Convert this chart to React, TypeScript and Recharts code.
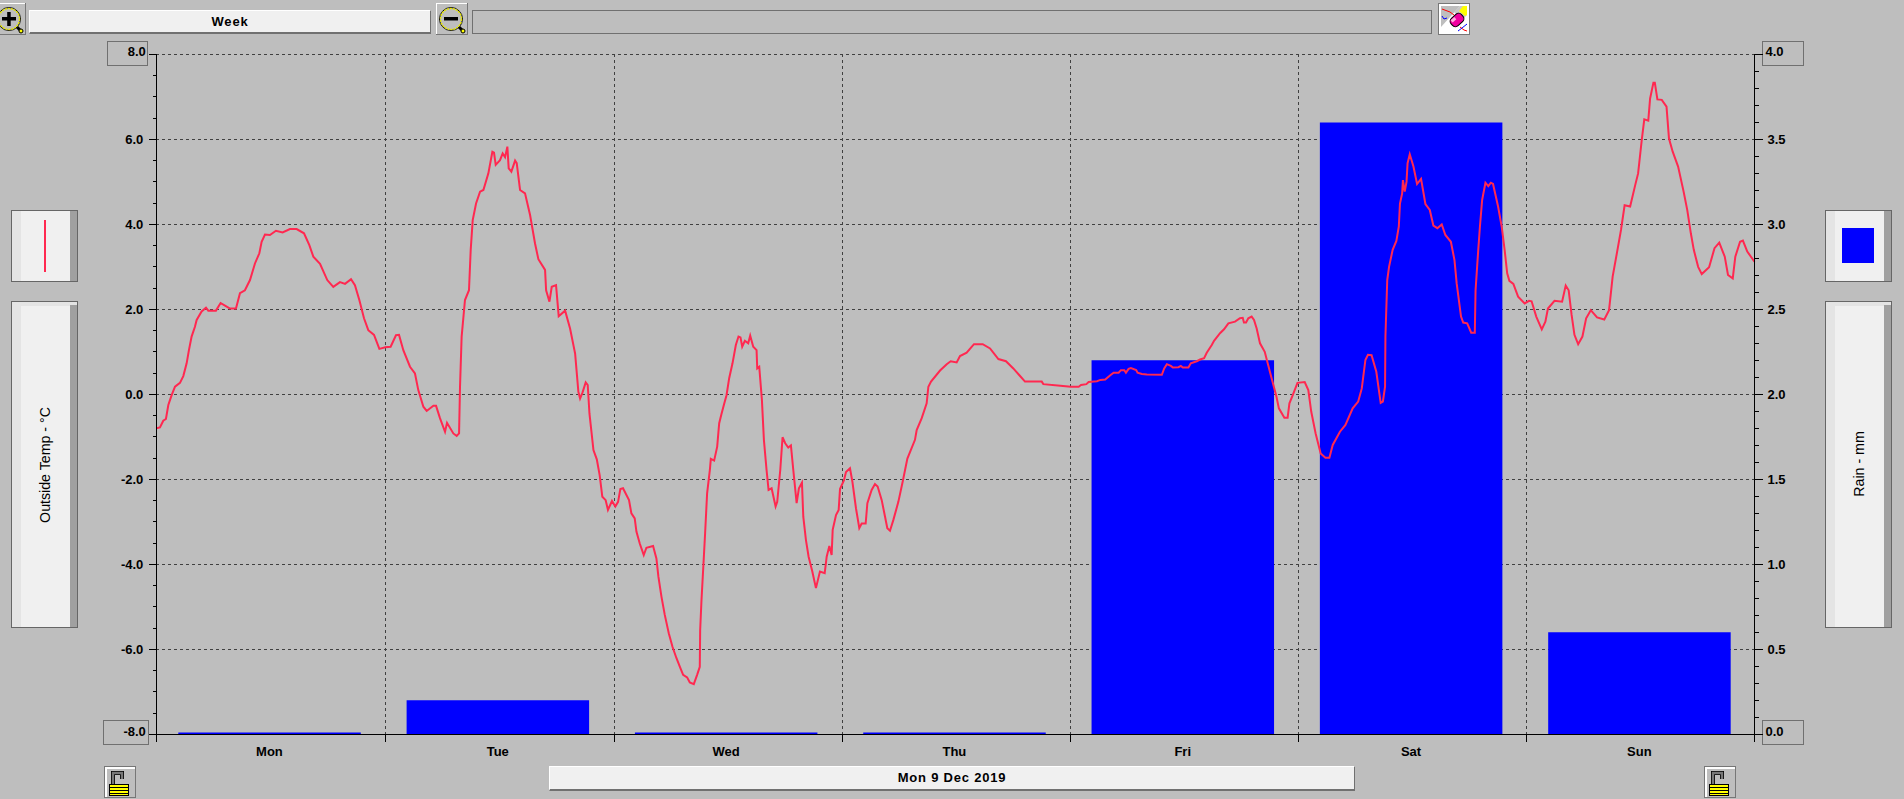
import React from 'react';
import { ComposedChart, Bar, Line, XAxis, YAxis, CartesianGrid } from 'recharts';

const BG = '#bebebe';
const RED = '#ff2850';
const BLUE = '#0000ff';
const FONT = '"Liberation Sans", Arial, sans-serif';

const days = ['Mon', 'Tue', 'Wed', 'Thu', 'Fri', 'Sat', 'Sun'];
const rainMm = [0.01, 0.2, 0.01, 0.01, 2.2, 3.6, 0.6];
// where the day lines sit on the hour axis, they drift a little in the original
const dayEdges = [0, 24.07, 48.15, 72.15, 96.12, 120.07, 144.03, 168];

const tempTicks = [
  -8, -7.5, -7, -6.5, -6, -5.5, -5, -4.5, -4, -3.5, -3, -2.5, -2, -1.5, -1, -0.5, 0,
  0.5, 1, 1.5, 2, 2.5, 3, 3.5, 4, 4.5, 5, 5.5, 6, 6.5, 7, 7.5, 8,
];
const tempMajor = [-8, -6, -4, -2, 0, 2, 4, 6, 8];
const rainTicks = [
  0, 0.1, 0.2, 0.3, 0.4, 0.5, 0.6, 0.7, 0.8, 0.9, 1, 1.1, 1.2, 1.3, 1.4, 1.5, 1.6, 1.7, 1.8, 1.9, 2,
  2.1, 2.2, 2.3, 2.4, 2.5, 2.6, 2.7, 2.8, 2.9, 3, 3.1, 3.2, 3.3, 3.4, 3.5, 3.6, 3.7, 3.8, 3.9, 4,
];

// hour of the week, outside temp
const tempReadings: [number, number][] = [
  [0, -0.8], [0.38, -0.78], [0.73, -0.62], [1.01, -0.58], [1.26, -0.25], [1.61, -0.02], [1.96, 0.18], [2.48, 0.27],
  [2.83, 0.43], [3.18, 0.73], [3.42, 1.04], [3.7, 1.36], [4.05, 1.59], [4.23, 1.75], [4.75, 1.95], [5.21, 2.04],
  [5.45, 1.97], [6.25, 1.97], [6.74, 2.15], [7.2, 2.09], [7.72, 2.02], [8.35, 2.02], [8.77, 2.38], [9.29, 2.45],
  [9.82, 2.69], [10.34, 3.08], [10.8, 3.32], [11.04, 3.59], [11.39, 3.76], [11.91, 3.75], [12.54, 3.85], [13.24, 3.81],
  [14.01, 3.89], [14.71, 3.89], [15.48, 3.79], [16.04, 3.51], [16.46, 3.24], [17.16, 3.07], [17.92, 2.69], [18.55, 2.53],
  [19.25, 2.64], [19.78, 2.6], [20.41, 2.71], [20.82, 2.57], [21.28, 2.22], [21.77, 1.79], [22.22, 1.51], [22.82, 1.4],
  [23.38, 1.07], [24, 1.11], [24.56, 1.12], [25.12, 1.39], [25.44, 1.4], [25.89, 1.04], [26.59, 0.65], [27.11, 0.49],
  [27.46, 0.1], [27.99, -0.29], [28.34, -0.39], [29.04, -0.27], [29.32, -0.27], [29.73, -0.56], [30.26, -0.88], [30.47, -0.67],
  [31.13, -0.92], [31.48, -0.98], [31.73, -0.92], [31.83, 0.18], [32, 1.36], [32.35, 2.22], [32.77, 2.45], [32.95, 3.4],
  [33.16, 4.1], [33.51, 4.49], [33.93, 4.77], [34.28, 4.81], [34.8, 5.2], [35.22, 5.71], [35.39, 5.69], [35.57, 5.4],
  [36.02, 5.51], [36.3, 5.67], [36.55, 5.58], [36.79, 5.83], [36.93, 5.32], [37.21, 5.24], [37.6, 5.5], [37.77, 5.44],
  [38.12, 4.81], [38.64, 4.73], [39.17, 4.22], [39.69, 3.55], [40.04, 3.18], [40.74, 2.93], [40.85, 2.45], [41.2, 2.18],
  [41.44, 2.53], [41.89, 2.57], [42.17, 1.84], [42.84, 1.97], [43.36, 1.55], [43.89, 0.96], [44.23, 0.06], [44.41, -0.1],
  [44.66, 0.04], [45, 0.28], [45.21, 0.22], [45.39, -0.45], [45.81, -1.31], [46.16, -1.53], [46.46, -1.9], [46.74, -2.41],
  [47.09, -2.49], [47.33, -2.72], [47.75, -2.51], [48.1, -2.64], [48.39, -2.53], [48.63, -2.23], [48.91, -2.21], [49.54, -2.49],
  [49.79, -2.8], [50.14, -2.92], [50.32, -3.23], [50.67, -3.51], [51.09, -3.78], [51.37, -3.61], [52.07, -3.57], [52.42, -3.86],
  [52.63, -4.29], [52.95, -4.76], [53.3, -5.19], [53.72, -5.62], [54.11, -5.94], [54.53, -6.21], [54.88, -6.41], [55.23, -6.6],
  [55.65, -6.66], [55.93, -6.78], [56.35, -6.82], [56.7, -6.6], [56.98, -6.41], [57.02, -5.55], [57.16, -4.84], [57.37, -3.98],
  [57.54, -3.27], [57.75, -2.33], [58.04, -1.78], [58.14, -1.52], [58.49, -1.56], [58.81, -1.23], [59.02, -0.68], [59.26, -0.46],
  [59.51, -0.25], [59.79, -0.02], [60.07, 0.38], [60.42, 0.73], [60.77, 1.16], [61.05, 1.36], [61.26, 1.34], [61.44, 1.12],
  [61.72, 1.26], [62.07, 1.2], [62.28, 1.38], [62.6, 1.12], [62.95, 1.04], [63.02, 0.61], [63.23, 0.65], [63.51, -0.13],
  [63.72, -1.07], [64, -1.78], [64.21, -2.25], [64.53, -2.21], [64.95, -2.64], [65.12, -2.53], [65.44, -1.78], [65.68, -1.01],
  [65.96, -1.15], [66.28, -1.25], [66.56, -1.2], [66.81, -1.78], [67.16, -2.56], [67.4, -2.21], [67.72, -2.08], [67.86, -2.88],
  [68.14, -3.43], [68.42, -3.82], [68.81, -4.17], [69.19, -4.56], [69.61, -4.17], [70.11, -4.21], [70.32, -3.82], [70.6, -3.57],
  [70.84, -3.78], [70.95, -3.19], [71.3, -2.84], [71.58, -2.72], [71.72, -2.23], [72.14, -2.02], [72.35, -1.83], [72.77, -1.74],
  [73.02, -2.05], [73.4, -2.68], [73.75, -3.15], [74, -3.04], [74.42, -3.04], [74.6, -2.56], [75.05, -2.25], [75.4, -2.11],
  [75.68, -2.17], [76.11, -2.49], [76.46, -2.88], [76.7, -3.15], [76.98, -3.21], [77.33, -2.96], [77.86, -2.53], [78.32, -2.05],
  [78.81, -1.51], [79.61, -1.07], [79.79, -0.84], [80.32, -0.56], [80.84, -0.21], [81.02, 0.18], [81.3, 0.3], [82.25, 0.56],
  [82.95, 0.71], [83.37, 0.78], [84, 0.75], [84.35, 0.9], [85.05, 0.98], [85.82, 1.18], [86.74, 1.18], [87.51, 1.08],
  [88.39, 0.83], [89.19, 0.78], [89.96, 0.61], [90.6, 0.45], [91.19, 0.3], [92.95, 0.3], [93.12, 0.24], [94.91, 0.2],
  [96, 0.18], [96.84, 0.18], [97.09, 0.22], [97.65, 0.24], [97.89, 0.29], [98.77, 0.31], [99.12, 0.34], [99.64, 0.35],
  [100.17, 0.45], [100.52, 0.51], [101.05, 0.51], [101.29, 0.57], [101.64, 0.57], [101.82, 0.51], [102.1, 0.6], [102.34, 0.62],
  [102.9, 0.57], [103.04, 0.51], [103.5, 0.48], [104.02, 0.47], [105.6, 0.46], [105.85, 0.61], [106.13, 0.71], [106.55, 0.67],
  [106.76, 0.63], [107.35, 0.64], [107.6, 0.67], [107.81, 0.63], [108.4, 0.63], [108.65, 0.73], [109.28, 0.78], [109.63, 0.82],
  [110.05, 0.85], [110.33, 0.98], [110.86, 1.16], [111.1, 1.26], [111.73, 1.44], [112.15, 1.53], [112.61, 1.67], [113.31, 1.71],
  [113.83, 1.79], [114.12, 1.8], [114.25, 1.69], [114.47, 1.69], [114.71, 1.79], [115.06, 1.83], [115.31, 1.75], [115.59, 1.55],
  [115.94, 1.2], [116.44, 1], [116.71, 0.77], [117.21, 0.34], [117.67, -0.05], [117.93, -0.33], [118.51, -0.55], [118.85, -0.55],
  [119.04, -0.21], [119.39, -0.02], [119.89, 0.27], [120.65, 0.29], [121.03, 0.1], [121.34, -0.41], [121.8, -0.92], [122.33, -1.39],
  [122.83, -1.49], [123.25, -1.49], [123.6, -1.19], [124.36, -0.88], [124.94, -0.72], [125.7, -0.33], [126.28, -0.17], [126.66, 0.14],
  [127.04, 0.81], [127.31, 0.93], [127.69, 0.92], [128.19, 0.53], [128.46, 0.1], [128.65, -0.2], [128.88, -0.17], [129.11, 0.18],
  [129.15, 1.36], [129.34, 2.69], [129.53, 3], [129.91, 3.4], [130.3, 3.61], [130.56, 3.95], [130.68, 4.49], [130.91, 4.73],
  [130.99, 5.04], [131.18, 4.77], [131.37, 5], [131.48, 5.44], [131.71, 5.65], [132.1, 5.36], [132.48, 4.95], [132.9, 5.07],
  [133.36, 4.48], [133.82, 4.34], [134.2, 3.97], [134.62, 3.91], [135.08, 4], [135.46, 3.75], [136.04, 3.59], [136.42, 3.16],
  [136.65, 2.61], [137.11, 1.83], [137.34, 1.69], [137.76, 1.67], [138.18, 1.45], [138.56, 1.45], [138.64, 2.45], [138.91, 3.36],
  [139.1, 3.95], [139.33, 4.57], [139.68, 4.98], [139.98, 4.9], [140.25, 4.98], [140.48, 4.95], [141.01, 4.42], [141.39, 3.95],
  [141.7, 3.4], [141.97, 2.85], [142.2, 2.67], [142.62, 2.6], [143.12, 2.3], [143.81, 2.14], [144.27, 2.2], [144.54, 2.19],
  [145.03, 1.83], [145.61, 1.53], [145.99, 1.71], [146.26, 2.02], [146.95, 2.2], [147.75, 2.18], [148.13, 2.56], [148.44, 2.45],
  [148.75, 1.87], [149.05, 1.4], [149.44, 1.18], [149.89, 1.36], [150.28, 1.79], [150.77, 1.98], [151.43, 1.81], [152.19, 1.76],
  [152.69, 1.98], [153.07, 2.77], [153.45, 3.24], [153.95, 3.87], [154.33, 4.45], [154.91, 4.42], [155.45, 4.93], [155.75, 5.2],
  [156.13, 5.98], [156.4, 6.47], [156.82, 6.44], [157.01, 6.96], [157.36, 7.33], [157.51, 7.33], [157.78, 6.94], [158.24, 6.93],
  [158.74, 6.77], [159, 6.02], [159.39, 5.71], [159.96, 5.36], [160.54, 4.77], [160.92, 4.34], [161.3, 3.79], [161.61, 3.4],
  [162.07, 3], [162.45, 2.83], [163.22, 2.99], [163.79, 3.44], [164.29, 3.57], [164.87, 3.24], [165.21, 2.81], [165.71, 2.73],
  [165.98, 3.24], [166.48, 3.59], [166.78, 3.62], [167.24, 3.36], [168, 3.12],
];

// readings were taken against the day lines, so keep them in step with dayEdges
const onDayEdges = (hour: number) => {
  const d = Math.min(Math.floor(hour / 24), 6);
  return dayEdges[d] + ((hour - d * 24) / 24) * (dayEdges[d + 1] - dayEdges[d]);
};

const rainData = days.map((day, i) => ({ day, rain: rainMm[i] }));
const tempData = tempReadings.map(([hour, temp]) => ({ hour: onDayEdges(hour), temp }));

const TempTick = ({ x, y, payload }: any) => {
  const v = payload.value;
  const major = tempMajor.includes(v);
  const boxed = Math.abs(v) === 8;
  return (
    <g>
      {boxed && (
        <rect x={x - (v < 0 ? 53 : 49)} y={v < 0 ? y - 13.5 : y - 12.5} width={v < 0 ? 45 : 40.5} height={23.5} fill={BG} stroke="#707070" shapeRendering="crispEdges" />
      )}
      <line x1={x} x2={x - (major ? 7 : 3)} y1={y} y2={y} stroke="#000" shapeRendering="crispEdges" />
      {major && (
        <text x={x - (boxed ? 10.5 : 13)} y={boxed ? y - 3 : y} dy="0.36em" textAnchor="end" fontFamily={FONT} fontWeight="bold" fontSize={13} fill="#000">
          {v.toFixed(1)}
        </text>
      )}
    </g>
  );
};

const RainTick = ({ x, y, payload }: any) => {
  const v = payload.value;
  const major = Math.round(v * 10) % 5 === 0;
  const boxed = v === 0 || v === 4;
  return (
    <g>
      {boxed && <rect x={x + 8} y={v === 4 ? y - 12.5 : y - 13.5} width={40.5} height={23.5} fill={BG} stroke="#707070" shapeRendering="crispEdges" />}
      <line x1={x} x2={x + (major ? 8 : 4)} y1={y} y2={y} stroke="#000" shapeRendering="crispEdges" />
      {major && (
        <text x={x + (boxed ? 11 : 13)} y={boxed ? y - 3 : y} dy="0.36em" textAnchor="start" fontFamily={FONT} fontWeight="bold" fontSize={13} fill="#000">
          {v.toFixed(1)}
        </text>
      )}
    </g>
  );
};

const box = (left: number, top: number, width: number, height: number): React.CSSProperties => ({
  position: 'absolute',
  left,
  top,
  width,
  height,
  boxSizing: 'border-box',
});

const TextButton = ({ left, top, width, height, label }: any) => (
  <div
    style={{
      ...box(left, top, width, height),
      background: '#f0f0f0',
      borderTop: '1px solid #fff',
      borderLeft: '1px solid #fff',
      borderRight: '1px solid #707070',
      borderBottom: '2px solid #707070',
      textAlign: 'center',
      font: `bold 13px ${FONT}`,
      lineHeight: `${height - 3}px`,
      letterSpacing: 0.8,
    }}
  >
    {label}
  </div>
);

const SidePanel = ({ left, top, height, children, topBand }: any) => (
  <div style={{ ...box(left, top, 67, height), border: '1px solid #666', background: '#f0f0f0' }}>
    {topBand && <div style={{ ...box(0, 0, 65, 4), background: '#e4e4e4' }} />}
    <div style={{ ...box(0, 0, 9, height - 2), background: '#e4e4e4' }} />
    <div style={{ ...box(58, topBand ? 3 : 0, 7, height - (topBand ? 5 : 2)), background: '#a0a0a0' }} />
    {children}
  </div>
);

const RotatedLabel = ({ cx, cy, text }: any) => (
  <div
    style={{
      position: 'absolute',
      left: cx - 100,
      top: cy - 10,
      width: 200,
      height: 20,
      textAlign: 'center',
      font: `14.2px ${FONT}`,
      lineHeight: '20px',
      whiteSpace: 'nowrap',
      transform: 'rotate(-90deg)',
    }}
  >
    {text}
  </div>
);

const ZoomIcon = ({ left, minus }: any) => (
  <svg style={{ position: 'absolute', left, top: 3 }} width={32} height={32}>
    <rect x={0.5} y={0.5} width={31} height={31} fill="#bebebe" stroke="#fff" />
    <rect x={31} y={0} width={1} height={32} fill="#777" />
    <rect x={0} y={31} width={32} height={1} fill="#777" />
    <line x1={23} y1={24} x2={28} y2={29} stroke="#000" strokeWidth={3} />
    <circle cx={27} cy={28} r={2} fill="#ff0" stroke="#000" />
    <circle cx={15} cy={16} r={11.5} fill="#bebebe" stroke="#000" strokeWidth={1} />
    <circle cx={15} cy={16} r={10.5} fill="none" stroke="#e6e600" strokeWidth={1.5} strokeDasharray="2 1" />
    <rect x={8} y={14} width={14} height={3.5} fill="#000" />
    {!minus && <rect x={13.2} y={9} width={3.5} height={14} fill="#000" />}
  </svg>
);

const EraserIcon = () => (
  <svg style={{ position: 'absolute', left: 1438, top: 3 }} width={32} height={32}>
    <rect x={0.5} y={0.5} width={31} height={31} fill="#fff" stroke="#777" />
    <polygon points="3,3 22,3 3,24" fill="#bebebe" />
    <polygon points="22,3 29,3 29,12 24,17 16,9" fill="#c8c8c8" />
    <polygon points="25,3 29,3 29,12 27,13 21,8" fill="#ff0" />
    <polyline points="4,6 12,9 16,12" fill="none" stroke="#f00" />
    <polyline points="4,13 6,16 9,15" fill="none" stroke="#00f" />
    <polyline points="22,24 26,27 29,28" fill="none" stroke="#f00" />
    <polyline points="20,28 24,25 29,21" fill="none" stroke="#00f" />
    <rect x={12} y={12} width={14} height={10} rx={4} fill="#f000a0" stroke="#000" transform="rotate(-42 19 17)" />
    <rect x={14} y={13} width={5} height={3} fill="#ffb0e0" transform="rotate(-42 19 17)" />
  </svg>
);

const LockIcon = ({ left }: any) => (
  <svg style={{ position: 'absolute', left, top: 766 }} width={32} height={32}>
    <rect x={0.5} y={0.5} width={31} height={31} fill="#bebebe" stroke="#777" />
    <rect x={1} y={1} width={30} height={2} fill="#fff" />
    <rect x={1} y={1} width={2} height={30} fill="#fff" />
    <path d="M9 18 V7 H18 V13" fill="none" stroke="#000" strokeWidth={4} />
    <path d="M9 18 V7 H18 V13" fill="none" stroke="#777" strokeWidth={2.4} />
    <rect x={5.5} y={18.5} width={19} height={11} fill="#ff0" stroke="#000" />
    <rect x={6} y={21} width={18} height={1} fill="#000" />
    <rect x={6} y={24} width={18} height={1} fill="#000" />
    <rect x={6} y={27} width={18} height={1} fill="#000" />
  </svg>
);

export default function App() {
  return (
    <div style={{ position: 'absolute', left: 0, top: 0, width: 1904, height: 799, background: BG, overflow: 'hidden' }}>
      <ZoomIcon left={-6} />
      <TextButton left={29} top={10} width={402} height={24} label="Week" />
      <ZoomIcon left={436} minus />
      <div style={{ ...box(472, 10, 960, 24), border: '1px solid #707070' }} />
      <EraserIcon />

      <SidePanel left={11} top={210} height={72}>
        <div style={{ ...box(31.5, 9, 2, 52), background: RED }} />
      </SidePanel>
      <SidePanel left={11} top={301} height={327} topBand>
        <RotatedLabel cx={33} cy={162.5} text="Outside Temp - °C" />
      </SidePanel>
      <SidePanel left={1825} top={210} height={72}>
        <div style={{ ...box(16, 17, 32, 35), background: BLUE }} />
      </SidePanel>
      <SidePanel left={1825} top={301} height={327} topBand>
        <RotatedLabel cx={33} cy={162} text="Rain - mm" />
      </SidePanel>

      <div style={{ position: 'absolute', left: 0, top: 0 }}>
        <ComposedChart
          width={1904}
          height={799}
          data={rainData}
          margin={{ top: 54.4, right: 89.5, bottom: 33.7, left: 96.3 }}
        >
          <CartesianGrid
            xAxisId="hours"
            yAxisId="temp"
            stroke="#404040"
            strokeDasharray="3 3"
            horizontalValues={tempMajor}
            verticalValues={dayEdges}
            shapeRendering="crispEdges"
          />
          <XAxis
            xAxisId="hours"
            type="number"
            dataKey="hour"
            domain={[0, 168]}
            ticks={dayEdges}
            interval={0}
            height={1}
            tickSize={8}
            tickFormatter={() => ''}
            axisLine={{ stroke: '#000', shapeRendering: 'crispEdges' }}
            tickLine={{ stroke: '#000', shapeRendering: 'crispEdges' }}
          />
          <XAxis
            xAxisId="weekdays"
            dataKey="day"
            height={30}
            interval={0}
            padding={{ left: -1, right: 1 }}
            axisLine={false}
            tickLine={false}
            tickSize={0}
            tickMargin={11}
            tick={{ fill: '#000', fontFamily: FONT, fontWeight: 'bold', fontSize: 13 }}
          />
          <YAxis
            yAxisId="temp"
            width={60}
            domain={[-8, 8]}
            ticks={tempTicks}
            interval={0}
            tickSize={0}
            tickMargin={0}
            tickLine={false}
            axisLine={{ stroke: '#000', shapeRendering: 'crispEdges' }}
            tick={TempTick}
          />
          <YAxis
            yAxisId="rain"
            orientation="right"
            width={60}
            domain={[0, 4]}
            ticks={rainTicks}
            interval={0}
            tickSize={0}
            tickMargin={0}
            tickLine={false}
            axisLine={{ stroke: '#000', shapeRendering: 'crispEdges' }}
            tick={RainTick}
          />
          <Bar
            xAxisId="weekdays"
            yAxisId="rain"
            dataKey="rain"
            fill={BLUE}
            barSize={182.5}
            isAnimationActive={false}
          />
          <Line
            xAxisId="hours"
            yAxisId="temp"
            data={tempData}
            dataKey="temp"
            type="linear"
            stroke={RED}
            strokeWidth={2}
            dot={false}
            activeDot={false}
            isAnimationActive={false}
          />
        </ComposedChart>
      </div>

      <LockIcon left={104} />
      <TextButton left={549} top={766} width={806} height={25} label="Mon 9 Dec 2019" />
      <LockIcon left={1704} />
    </div>
  );
}
